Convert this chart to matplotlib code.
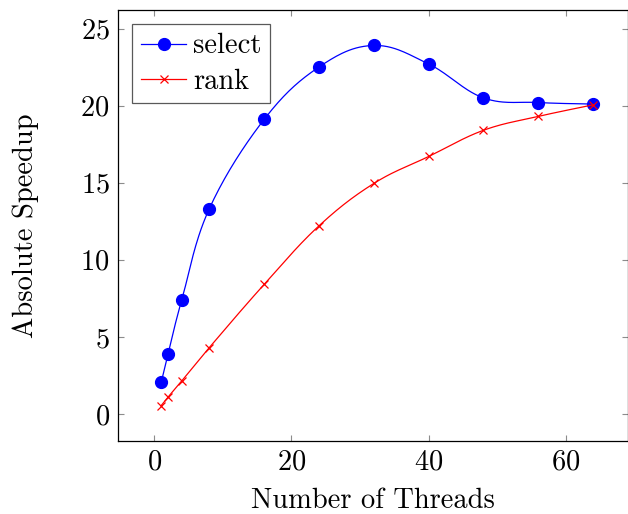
import numpy as np
import matplotlib
matplotlib.use("Agg")
import matplotlib.pyplot as plt
from matplotlib.lines import Line2D

plt.rcParams['font.family'] = 'cmr10'
plt.rcParams['mathtext.fontset'] = 'cm'
plt.rcParams['axes.formatter.use_mathtext'] = True

threads = [1, 2, 4, 8, 16, 24, 32, 40, 48, 56, 64]
select_speedup = [2.05, 3.9, 7.4, 13.3, 19.1, 22.5, 23.9, 22.7, 20.5, 20.2, 20.1]
rank_speedup = [0.55, 1.1, 2.15, 4.3, 8.4, 12.2, 14.95, 16.7, 18.4, 19.3, 20.05]

XSCALE, YSCALE = 6.86, 15.4  # px per unit, for smoothing in display-like space


def smooth(x, y, tension=0.55, n=30):
    p = np.column_stack([np.asarray(x, float) * XSCALE, np.asarray(y, float) * YSCALE])
    out = [p[0]]
    k = tension / 3.0
    for i in range(len(p) - 1):
        p0 = p[i - 1] if i > 0 else p[i]
        p1, p2 = p[i], p[i + 1]
        p3 = p[i + 2] if i + 2 < len(p) else p[i + 1]
        c1 = p1 + (p2 - p0) * k
        c2 = p2 - (p3 - p1) * k
        t = np.linspace(0, 1, n)[1:, None]
        seg = ((1 - t) ** 3) * p1 + 3 * ((1 - t) ** 2) * t * c1 + 3 * (1 - t) * t ** 2 * c2 + t ** 3 * p2
        out.extend(seg)
    out = np.array(out)
    return out[:, 0] / XSCALE, out[:, 1] / YSCALE


FS = 20.5
fig = plt.figure(figsize=(6.28, 5.14), dpi=100)
ax = fig.add_axes([118 / 628, 1 - 441 / 514, 509.5 / 628, 431 / 514])

sx, sy = smooth(threads, select_speedup)
ax.plot(sx, sy, color='blue', lw=0.9)
ax.plot(threads, select_speedup, ls='none', marker='o', ms=8.5, color='blue')
rx, ry = smooth(threads, rank_speedup)
ax.plot(rx, ry, color='red', lw=0.9)
ax.plot(threads, rank_speedup, ls='none', marker='x', ms=5.5, mew=0.9, color='red')

h1 = Line2D([], [], color='blue', lw=0.9, marker='o', ms=8.5)
h2 = Line2D([], [], color='red', lw=0.9, marker='x', ms=5.5, mew=0.9)
leg = ax.legend([h1, h2], ['select', 'rank'], loc='upper left', fontsize=FS,
                fancybox=False, edgecolor='0.35', framealpha=1,
                handlelength=1.6, borderaxespad=0.5, borderpad=0.3,
                labelspacing=0.33, handletextpad=0.25, handleheight=0.6)
leg.get_frame().set_linewidth(0.9)

ax.set_xlim(-5.3, 69.0)
ax.set_ylim(-1.75, 26.2)
ax.set_xticks([0, 20, 40, 60])
ax.set_yticks([0, 5, 10, 15, 20, 25])
ax.tick_params(direction='in', length=4.5, width=0.8, color='0.55',
               top=True, right=True, labelsize=FS, pad=6)
for s in ax.spines.values():
    s.set_linewidth(0.9)
ax.set_xlabel('Number of Threads', fontsize=FS, labelpad=9)
ax.set_ylabel('Absolute Speedup', fontsize=FS, labelpad=30)

fig.savefig('out.png', dpi=100)
